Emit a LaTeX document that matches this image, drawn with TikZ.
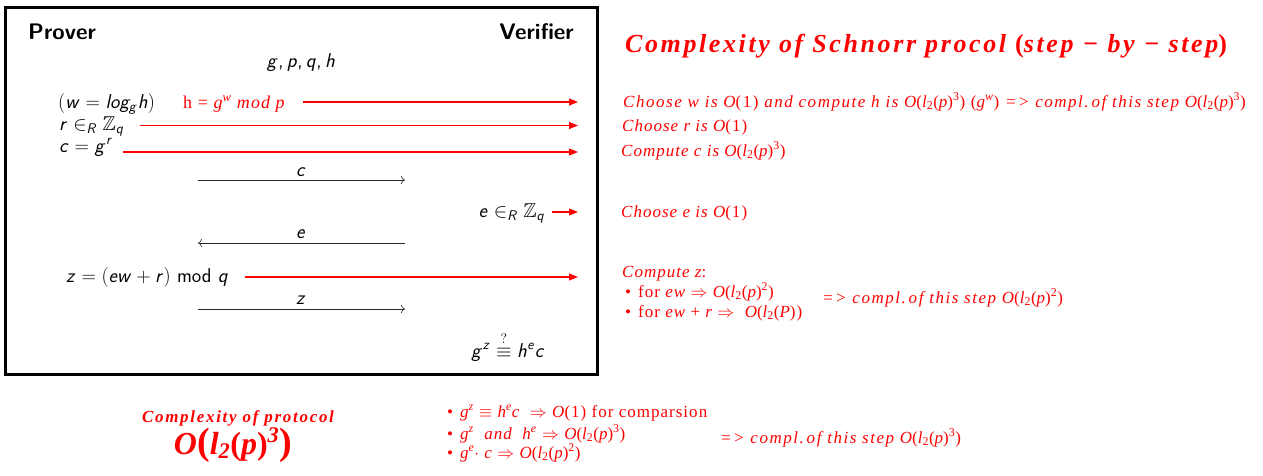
\RequirePackage{fix-cm}
\documentclass[tikz,border=0pt]{standalone}
\usepackage{fontspec}
\usepackage{amsmath,amssymb}
\usetikzlibrary{arrows.meta}
\DeclareSymbolFont{sfl}{OT1}{cmss}{m}{sl}
\DeclareSymbolFont{sfo}{OT1}{cmss}{m}{n}
\DeclareMathSymbol{c}{\mathalpha}{sfl}{`c}
\DeclareMathSymbol{e}{\mathalpha}{sfl}{`e}
\DeclareMathSymbol{g}{\mathalpha}{sfl}{`g}
\DeclareMathSymbol{h}{\mathalpha}{sfl}{`h}
\DeclareMathSymbol{l}{\mathalpha}{sfl}{`l}
\DeclareMathSymbol{o}{\mathalpha}{sfl}{`o}
\DeclareMathSymbol{p}{\mathalpha}{sfl}{`p}
\DeclareMathSymbol{q}{\mathalpha}{sfl}{`q}
\DeclareMathSymbol{r}{\mathalpha}{sfl}{`r}
\DeclareMathSymbol{w}{\mathalpha}{sfl}{`w}
\DeclareMathSymbol{z}{\mathalpha}{sfl}{`z}
\DeclareMathSymbol{R}{\mathalpha}{sfl}{`R}
\DeclareMathSymbol{=}{\mathrel}{sfo}{`=}
\DeclareMathSymbol{+}{\mathbin}{sfo}{`+}
\DeclareMathSymbol{,}{\mathpunct}{sfo}{`,}
\DeclareMathSymbol{(}{\mathopen}{sfo}{`(}
\DeclareMathSymbol{)}{\mathclose}{sfo}{`)}
\newfontfamily\rf{Liberation Serif}[LetterSpace=6]
\newfontfamily\rfw{Liberation Serif}[LetterSpace=9]
\newfontfamily\rfh{Liberation Serif}[LetterSpace=6]
\newfontfamily\rft{Liberation Serif}[LetterSpace=10]
\newfontfamily\rfb{Liberation Serif}[LetterSpace=10]
\newcommand\Ol[1]{O{\upshape(}l\textsubscript{\upshape 2}{\upshape(}p{\upshape)}\textsuperscript{\upshape #1}{\upshape)}}
\newcommand\Oone{O{\upshape(1)}}
\newcommand\bul{\makebox[13pt][l]{\upshape\textbullet}}
\begin{document}
\begin{tikzpicture}[x=1pt,y=-1pt,
  lbl/.style={inner sep=0pt, font=\fontsize{20}{22}\selectfont\sffamily},
  hdr/.style={inner sep=0pt, font=\fontsize{22.5}{25}\selectfont\sffamily\bfseries},
  msg/.style={-{To[length=4pt,width=8pt]}, line width=0.6pt, black!85},
  ra/.style={-{Triangle[length=9pt,width=7pt]}, red, line width=1.1pt},
  rt/.style={inner sep=0pt, text=red, font=\fontsize{17}{19}\selectfont\rf\itshape},
  rtw/.style={rt, font=\fontsize{17}{19}\selectfont\rfw\itshape},
  rtb/.style={inner sep=0pt, text=red, font=\fontsize{17}{19}\selectfont\rfb\bfseries\itshape}]
\useasboundingbox (0,0) rectangle (1263,475);
\draw[line width=3pt] (5,7) rectangle (597,374);
% headers
\node[hdr, anchor=base west] (prover) at (28,39) {Prover};
\node[hdr, anchor=base east] (verifier) at (574,39) {Verifier};
\node[lbl, anchor=base] (pub) at (301,67) {$g, p, q, h$};
% row 1
\node[lbl, anchor=base west] (wlog) at (58,108) {$(w = log_g h)$};
\node[inner sep=0pt, anchor=base west, text=red, font=\fontsize{18}{20}\selectfont\rfh] (hm) at (183,108) {h = \textit{g\textsuperscript{w} mod p}};
\coordinate (a1s) at (303,102); \coordinate (a1e) at (578,102);
\draw[ra] (a1s) -- (a1e);
% row 2
\node[lbl, anchor=base west] (rz) at (59,130) {$r \in_R \mathbb{Z}_q$};
\coordinate (a2s) at (140,125.5); \coordinate (a2e) at (578,125.5);
\draw[ra] (a2s) -- (a2e);
% row 3
\node[lbl, anchor=base west] (cg) at (59,152) {$c = g^r$};
\coordinate (a3s) at (123,152); \coordinate (a3e) at (578,152);
\draw[ra] (a3s) -- (a3e);
% message c
\coordinate (m1s) at (198,180); \coordinate (m1e) at (405,180);
\draw[msg] (m1s) -- (m1e);
\node[lbl, anchor=base] (lc) at (301,176) {$c$};
% e
\node[lbl, anchor=base east] (ez) at (545,217) {$e \in_R \mathbb{Z}_q$};
\coordinate (a4s) at (552,212); \coordinate (a4e) at (578,212);
\draw[ra] (a4s) -- (a4e);
\coordinate (m2s) at (405,243); \coordinate (m2e) at (198,243);
\draw[msg] (m2s) -- (m2e);
\node[lbl, anchor=base] (le) at (301,238) {$e$};
% z
\node[lbl, anchor=base west] (zz) at (66,282) {$z = (ew + r)$ mod $q$};
\coordinate (a5s) at (245,277); \coordinate (a5e) at (578,277);
\draw[ra] (a5s) -- (a5e);
\coordinate (m3s) at (198,309); \coordinate (m3e) at (405,309);
\draw[msg] (m3s) -- (m3e);
\node[lbl, anchor=base] (lz) at (301,304) {$z$};
\node[lbl, anchor=base east] (chk) at (545,357) {$g^z \stackrel{?}{\equiv} h^e c$};
% right column
\node[inner sep=0pt, anchor=base west, text=red, font=\fontsize{26}{28}\selectfont\rft\bfseries\itshape] (title) at (625,52) {Complexity of Schnorr procol {\upshape(}step − by − step{\upshape)}};
\node[rtw, anchor=base west] (t1) at (623,107) {Choose w is \Oone{} and compute h is \Ol{3} {\upshape(}g\textsuperscript{w}{\upshape)} => compl.\,of this step \Ol{3}};
\node[rt, anchor=base west] (t2) at (622,131) {Choose r is \Oone};
\node[rt, anchor=base west] (t3) at (621,156) {Compute c is \Ol{3}};
\node[rt, anchor=base west] (t4) at (621,217) {Choose e is \Oone};
\node[rt, anchor=base west] (t5) at (622,277) {Compute z{\upshape:}};
\node[rt, anchor=base west] (t6) at (625,297) {\bul{\upshape for} ew $\Rightarrow$ \Ol{2}};
\node[rt, anchor=base west] (t7) at (625,317) {\bul{\upshape for} ew {\upshape+} r $\Rightarrow$\ \ O{\upshape(}l\textsubscript{\upshape 2}{\upshape(}P{\upshape))}};
\node[rtw, anchor=base west] (t8) at (822,303) {=> compl.\,of this step \Ol{2}};
% bottom
\node[rtb, anchor=base] (cp) at (238,422) {Complexity of protocol};
\node[inner sep=0pt, anchor=base, text=red, font=\fontsize{32}{33}\selectfont\rft\bfseries\itshape] (ol) at (233,454) {O{\fontsize{38}{38}\selectfont\upshape(}l\textsubscript{2}{\upshape(}p{\upshape)}\textsuperscript{3}{\fontsize{38}{38}\selectfont\upshape)}};
\node[rt, anchor=base west] (b1) at (447,417) {\bul g\textsuperscript{z} $\equiv$ h\textsuperscript{e}c\ \ $\Rightarrow$ \Oone{} {\upshape for comparsion}};
\node[rt, anchor=base west] (b2) at (447,439) {\bul g\textsuperscript{z}\ \ and\ \ h\textsuperscript{e} $\Rightarrow$ \Ol{3}};
\node[rt, anchor=base west] (b3) at (447,458) {\bul g\textsuperscript{e}{\upshape$\cdot$} c $\Rightarrow$ \Ol{2}};
\node[rtw, anchor=base west] (b4) at (720,443) {=> compl.\,of this step \Ol{3}};
\end{tikzpicture}
\end{document}
